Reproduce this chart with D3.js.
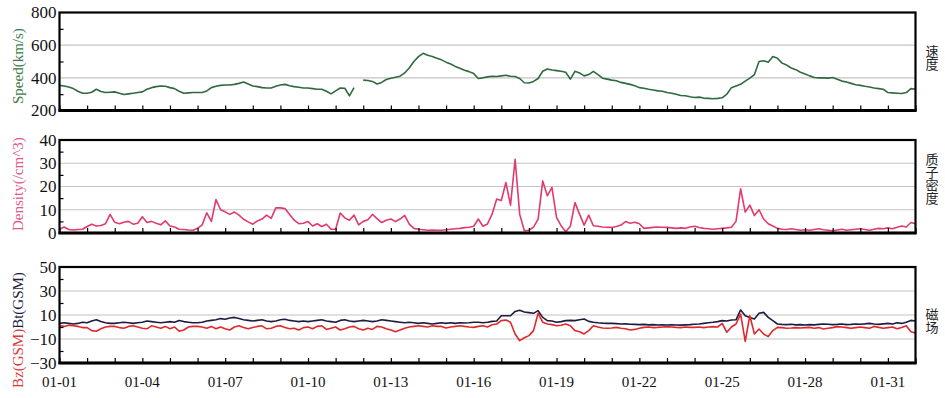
<!DOCTYPE html>
<html>
<head>
<meta charset="utf-8">
<script src="https://cdn.jsdelivr.net/npm/d3@7"></script>
<style>
  body { margin: 0; background: #fff; }
  svg text { font-family: "Liberation Serif", "Times New Roman", serif; }
</style>
</head>
<body>
<svg id="chart" width="945" height="398"></svg>
<script>
// 4-hourly samples, 01-01 00:00 to 02-01 00:00
const speed = [
  354, 350, 344, 334, 318, 306,
  306, 312, 330, 316, 310, 312,
  314, 306, 298, 302, 306, 310,
  314, 330, 340, 346, 350, 348,
  340, 334, 318, 306, 308, 310,
  310, 310, 320, 340, 348, 354,
  356, 356, 360, 366, 374, 362,
  350, 346, 340, 338, 338, 348,
  356, 360, 352, 346, 342, 338,
  338, 334, 330, 330, 318, 302,
  320, 338, 336, 290, 340, null,
  386, 384, 378, 362, 372, 390,
  398, 404, 410, 430, 460, 500,
  530, 550, 538, 530, 520, 510,
  496, 485, 470, 458, 446, 438,
  426, 396, 400, 406, 410, 408,
  412, 416, 410, 408, 396, 370,
  368, 378, 396, 440, 454, 448,
  444, 440, 434, 392, 440, 430,
  412, 420, 440, 420, 398, 392,
  386, 382, 372, 366, 360, 352,
  340, 336, 330, 326, 320, 318,
  310, 306, 300, 292, 290, 284,
  280, 282, 276, 274, 272, 274,
  278, 300, 340, 350, 360, 380,
  398, 420, 500, 505, 496, 530,
  520, 490, 478, 460, 450, 434,
  424, 412, 402, 400, 400, 398,
  402, 392, 380, 374, 366, 358,
  354, 348, 344, 338, 334, 330,
  310, 308, 306, 304, 310, 334,
  330
];

const density = [
  1.6, 2.6, 1.5, 1.3, 1.5, 1.6,
  2.8, 3.8, 3.0, 3.2, 4.0, 8.0,
  4.6, 4.0, 4.6, 5.0, 3.8, 4.2,
  7.0, 4.5, 5.0, 4.2, 3.5, 5.2,
  3.0, 2.6, 1.6, 1.5, 1.3, 1.2,
  2.0, 3.5, 8.7, 5.0, 14.4, 10.0,
  9.1, 8.0, 9.0, 7.7, 5.9, 4.8,
  3.8, 5.2, 6.0, 7.7, 6.3, 10.8,
  10.8, 10.5, 8.0, 5.5, 4.0, 4.2,
  4.9, 3.0, 4.0, 2.8, 3.8, 1.6,
  1.6, 8.6, 6.5, 5.5, 7.7, 3.5,
  5.0, 5.7, 8.0, 6.2, 4.5, 5.5,
  6.0, 4.9, 6.0, 7.6, 3.8, 2.0,
  1.6, 1.4, 1.2, 1.3, 1.2, 1.2,
  1.4, 1.6, 1.8, 2.0, 2.3, 2.5,
  2.9, 6.0, 2.9, 3.9, 8.1, 14.6,
  14.0, 21.7, 12.0, 31.7, 8.0, 1.0,
  1.2, 2.5, 6.0, 22.4, 16.0, 19.6,
  6.7, 3.1, 0.5, 2.9, 13.1, 8.1,
  3.4, 7.7, 3.1, 2.9, 2.6, 2.5,
  2.4, 2.8, 3.4, 4.9, 4.2, 4.6,
  4.0, 2.0, 2.2, 2.4, 2.6, 2.5,
  2.4, 2.2, 2.0, 2.2, 2.0, 2.6,
  2.9, 2.4, 2.0, 1.8, 1.6, 1.8,
  2.0, 2.2, 2.5, 5.0, 19.0, 9.0,
  12.0, 7.5, 10.0, 6.0, 4.0, 3.0,
  2.0, 1.6, 1.5, 1.8, 1.5, 1.2,
  1.4, 1.2, 1.5, 1.8, 1.4, 1.2,
  1.0, 1.3, 1.6, 1.2, 1.4, 1.6,
  1.8, 1.5, 1.2, 1.6, 2.0, 1.8,
  2.2, 1.8, 2.5, 3.0, 2.6, 4.5,
  4.0
];

const bt = [
  3, 3.5, 3, 2.5, 3, 4,
  3.5, 5, 6, 4.5, 3.5, 3,
  3, 3.5, 4, 3.5, 3, 3.5,
  4, 5, 4.5, 4, 3.5, 4,
  4.5, 4, 5.5, 4.5, 4, 3.5,
  3.5, 4, 5, 5.5, 6, 7,
  6.5, 7.5, 8, 7, 6, 5.5,
  5, 5.5, 6, 5, 4.5, 5,
  6, 6.5, 5.5, 5, 4.5, 5,
  4.5, 5, 5.5, 6, 5, 4.5,
  4, 5.5, 6, 5, 4.5, 5,
  5.5, 5, 4.5, 5, 6, 5.5,
  5, 4.5, 4, 3.5, 4, 3.5,
  3, 3.5, 3, 2.5, 3, 3.5,
  3, 3.5, 3, 3.5, 3.3, 3.5,
  3.9, 4, 3.5, 4, 4.7, 5,
  9.4, 9.4, 9.4, 13, 14, 12.5,
  12, 11.4, 13.6, 8, 5.3, 5,
  3.9, 4.5, 5.3, 5.5, 5.3, 6,
  6.7, 4.7, 3.9, 3.5, 3.2, 3,
  3, 2.8, 2.5, 2.6, 2.3, 2.2,
  2, 2.2, 1.8, 2, 1.7, 1.8,
  1.7, 1.8, 1.7, 1.6, 1.8, 2,
  2.3, 2.5, 3, 3.5, 3.9, 4.5,
  5.3, 5, 5.8, 6, 14.2, 9.4,
  8, 6.7, 11.4, 12.2, 8, 5.3,
  2.5, 2.2, 2, 2.3, 1.8, 2,
  1.7, 2, 1.8, 2.2, 2.5, 2.3,
  2, 2.2, 2.5, 2, 2.2, 2.5,
  2.3, 2.6, 3, 2.5, 2.2, 2.6,
  3, 2.5, 3.5, 3, 4, 5.5,
  5
];

const bz = [
  1, 0.5, 1.5, 1, 0.5, -0.5,
  -0.5, -3, -3.5, -1.5, 0, 0.5,
  0.5, -0.5, -1, 0.5, 1, 0,
  -1, -1.5, 1, 0, -1, 0.5,
  -1.5, 0, -3.5, -2.5, 0, 0.5,
  0.5, 0, -1, 0.5, -1.5, 0,
  -1.5, -2.5, 0, 1, -0.5, -1.5,
  -0.5, 0.5, 1, -1.5, -1, 0.5,
  1, -0.5, -1.5, -1, -2.5, -0.5,
  0, -1.5, 0.5, 1, -2, -1,
  0, -2.5, -1.5, 0, 0.5, -1.5,
  -2.5, -1, -2, 0.5, 0, -1.5,
  -2.5, -4, -2.5, -1, 0, 0.5,
  1, 0.5, 0, 1, 0.5, 0.5,
  -0.8, 0, 0.5, 1.1, 0.5, 0,
  -0.3, 0.5, 1, 0, 1.9, 2.5,
  5.3, 5.8, 4, -5.8, -11.4, -9,
  -7.2, -3, 11.4, 4, 2.5, 2,
  1.1, 1.5, 2.5, 1, -3, -4,
  -5.8, -3, 1.1, 0, -0.8, -1,
  -0.8, -0.3, -1, -1.5, -2.5, -2,
  -1, -0.3, 0, -0.5, -0.3, 0,
  0.3, 0, -0.3, -0.5, 0, -0.3,
  -0.3, 0, -0.5, 0, 0.3, 0,
  3, -4.4, 0, 2.5, 10.8, -12,
  9.4, -5.8, -1.7, -5.8, -8, -3,
  -0.3, -0.5, -1, -0.8, -0.5, -0.8,
  -0.5, -0.3, -1, -0.5, -1.7, -1,
  -0.5, 0.3, 0, -0.5, -1, -0.5,
  0, -0.5, -1, 0.5, -0.3, -1,
  -0.5, 0, -1.5, -0.5, 1, -4,
  -5
];

const xLabels = ['01-01', '01-04', '01-07', '01-10', '01-13', '01-16', '01-19', '01-22', '01-25', '01-28', '01-31'];

const serif = '"Liberation Serif", "Times New Roman", serif';
const startDate = new Date(2024, 0, 1);
const endDate = new Date(2024, 1, 1);
const stepHours = 4;
const times = speed.map((_, i) => d3.timeHour.offset(startDate, i * stepHours));

const svg = d3.select('#chart');
const left = 59.5, right = 915.5;

const x = d3.scaleTime().domain([startDate, endDate]).range([left, right]);

const panels = [
  {
    top: 12.5, bottom: 110.5, domain: [200, 800],
    major: [200, 400, 600, 800], grid: [400, 600], minor: [300, 500, 700],
    series: [{ values: speed, color: '#2f6a3e' }],
    title: [{ text: 'Speed(km/s)', color: '#3c7a4b' }], titleStart: 104,
    side: '速度', sideY: 45
  },
  {
    top: 140, bottom: 233, domain: [0, 40],
    major: [0, 10, 20, 30, 40], grid: [10, 20, 30], minor: [5, 15, 25, 35],
    series: [{ values: density, color: '#e2396f' }],
    title: [{ text: 'Density(/cm^3)', color: '#e2588a' }], titleStart: 231,
    side: '质子密度', sideY: 153
  },
  {
    top: 267, bottom: 363, domain: [-30, 50],
    major: [-30, -10, 10, 30, 50], grid: [-10, 10, 30], minor: [-20, 0, 20, 40],
    series: [{ values: bt, color: '#1c1c40' }, { values: bz, color: '#e0282b' }],
    title: [{ text: 'Bz(GSM)', color: '#d8393a' }, { text: 'Bt(GSM)', color: '#1c1c40' }], titleStart: 388,
    side: '磁场', sideY: 308
  }
];

panels.forEach((p) => {
  const y = d3.scaleLinear().domain(p.domain).range([p.bottom, p.top]);
  const g = svg.append('g');

  // grid
  g.selectAll('line.grid')
    .data(p.grid)
    .enter()
    .append('line')
    .attr('x1', left).attr('x2', right)
    .attr('y1', (d) => y(d)).attr('y2', (d) => y(d))
    .attr('stroke', '#c4c4c4')
    .attr('stroke-width', 1.2);

  // lines
  p.series.forEach((s) => {
    const line = d3.line()
      .defined((d) => d != null)
      .x((d, i) => x(times[i]))
      .y((d) => y(d));
    g.append('path')
      .datum(s.values)
      .attr('fill', 'none')
      .attr('stroke', s.color)
      .attr('stroke-width', 1.6)
      .attr('stroke-linejoin', 'round')
      .attr('d', line);
  });

  // left tick labels
  const yAxis = g.append('g')
    .attr('transform', `translate(${left}, 0)`)
    .call(d3.axisLeft(y).tickValues(p.major).tickSize(0).tickPadding(3))
    .attr('font-family', serif);
  yAxis.select('.domain').remove();
  yAxis.selectAll('text')
    .attr('font-size', 17)
    .attr('fill', '#111')
    .style('font-family', serif);

  // minor ticks pointing in
  const minor = g.append('g')
    .attr('transform', `translate(${left}, 0)`)
    .call(d3.axisRight(y).tickValues(p.minor).tickSize(4).tickFormat(''));
  minor.select('.domain').remove();
  minor.selectAll('line').attr('stroke', '#000').attr('stroke-width', 1.2);

  // day ticks on bottom edge
  const xTicks = g.append('g')
    .attr('transform', `translate(0, ${p.bottom})`)
    .call(d3.axisTop(x).ticks(d3.timeDay.every(1)).tickSize(5).tickFormat(''));
  xTicks.select('.domain').remove();
  xTicks.selectAll('line').attr('stroke', '#000').attr('stroke-width', 1.2);

  // frame
  g.append('rect')
    .attr('x', left).attr('y', p.top)
    .attr('width', right - left).attr('height', p.bottom - p.top)
    .attr('fill', 'none')
    .attr('stroke', '#000')
    .attr('stroke-width', 2.2);
  g.append('line')
    .attr('x1', left - 1).attr('x2', right + 1)
    .attr('y1', p.bottom).attr('y2', p.bottom)
    .attr('stroke', '#000')
    .attr('stroke-width', 3);

  // rotated title on the left
  const t = g.append('text')
    .attr('transform', `translate(23, ${p.titleStart}) rotate(-90)`)
    .attr('font-size', 15)
    .style('font-family', serif);
  p.title.forEach((part) => {
    t.append('tspan').attr('fill', part.color).text(part.text);
  });

  // vertical Chinese label on the right
  g.append('text')
    .attr('x', 932)
    .attr('y', p.sideY)
    .attr('font-size', 13)
    .attr('fill', '#222')
    .style('font-family', '"Noto Sans CJK SC", sans-serif')
    .style('writing-mode', 'vertical-rl')
    .style('text-orientation', 'upright')
    .text(p.side);
});

// date labels under the last panel
const fmt = d3.timeFormat('%m-%d');
const labelDates = d3.timeDay.range(startDate, endDate).filter((d) => xLabels.includes(fmt(d)));
svg.append('g')
  .selectAll('text')
  .data(labelDates)
  .enter()
  .append('text')
  .attr('x', (d) => x(d))
  .attr('y', 387)
  .attr('text-anchor', 'middle')
  .attr('font-size', 15)
  .attr('fill', '#111')
  .style('font-family', serif)
  .text((d) => fmt(d));
</script>
</body>
</html>
